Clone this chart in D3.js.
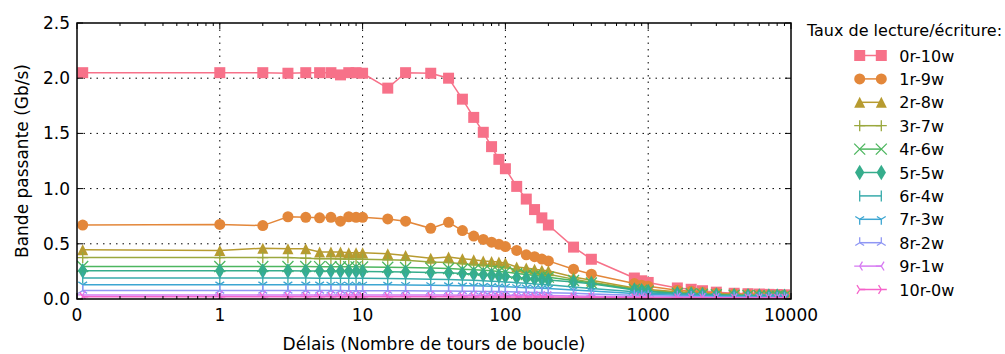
<!DOCTYPE html>
<html>
<head>
<meta charset="utf-8">
<script src="https://cdn.jsdelivr.net/npm/d3@7"></script>
<style>
  html, body { margin: 0; padding: 0; background: #fff; }
  svg { display: block; font-family: "DejaVu Sans", sans-serif; }
</style>
</head>
<body>
<svg id="chart" width="1005" height="354"></svg>
<script>
// Delay values (loop iterations) shared by every series
const delays = [0.04, 1, 2, 3, 4, 5, 6, 7, 8, 9, 10, 15, 20, 30, 40, 50, 60, 70, 80, 90, 100,
  120, 140, 160, 180, 200, 300, 400, 800, 900, 1000, 1600, 2000, 2400, 3000, 4000, 5000,
  6000, 7000, 8000, 9000];

// Bandwidth (Gb/s) per read/write mix
const bw_0r10w = [2.05, 2.05, 2.05, 2.045, 2.05, 2.05, 2.05, 2.03, 2.05, 2.05, 2.045, 1.91, 2.05, 2.045, 2.0,
  1.81, 1.645, 1.51, 1.38, 1.265, 1.18, 1.02, 0.905, 0.81, 0.735, 0.67, 0.47, 0.36, 0.19, 0.165, 0.15,
  0.1, 0.088, 0.075, 0.062, 0.052, 0.048, 0.045, 0.042, 0.04, 0.038];
const bw_1r9w = [0.67, 0.675, 0.665, 0.745, 0.74, 0.735, 0.74, 0.705, 0.745, 0.74, 0.74, 0.725, 0.705, 0.64, 0.695,
  0.62, 0.57, 0.54, 0.515, 0.495, 0.475, 0.44, 0.40, 0.383, 0.362, 0.345, 0.27, 0.225, 0.14, 0.125, 0.115,
  0.08, 0.07, 0.062, 0.052, 0.045, 0.04, 0.037, 0.035, 0.033, 0.032];
const bw_2r8w = [0.445, 0.44, 0.46, 0.455, 0.455, 0.425, 0.425, 0.425, 0.42, 0.42, 0.42, 0.41, 0.395, 0.37, 0.38,
  0.365, 0.355, 0.345, 0.34, 0.335, 0.325, 0.29, 0.28, 0.27, 0.26, 0.255, 0.2, 0.17, 0.1, 0.092, 0.085,
  0.065, 0.058, 0.052, 0.046, 0.04, 0.037, 0.035, 0.033, 0.031, 0.03];
const bw_3r7w = [0.375, 0.375, 0.375, 0.375, 0.37, 0.365, 0.365, 0.363, 0.362, 0.36, 0.36, 0.355, 0.35, 0.335, 0.33,
  0.32, 0.31, 0.305, 0.298, 0.292, 0.285, 0.265, 0.252, 0.242, 0.232, 0.225, 0.18, 0.152, 0.092, 0.085, 0.078,
  0.058, 0.052, 0.047, 0.042, 0.037, 0.034, 0.032, 0.03, 0.029, 0.028];
const bw_4r6w = [0.295, 0.295, 0.295, 0.295, 0.294, 0.293, 0.293, 0.292, 0.292, 0.291, 0.29, 0.288, 0.285, 0.28, 0.276,
  0.27, 0.265, 0.26, 0.255, 0.25, 0.245, 0.232, 0.222, 0.213, 0.205, 0.198, 0.168, 0.145, 0.087, 0.079, 0.071,
  0.052, 0.047, 0.043, 0.038, 0.034, 0.031, 0.029, 0.028, 0.027, 0.026];
const bw_5r5w = [0.255, 0.255, 0.255, 0.255, 0.253, 0.253, 0.253, 0.252, 0.252, 0.251, 0.25, 0.247, 0.244, 0.24, 0.237,
  0.232, 0.226, 0.22, 0.214, 0.208, 0.203, 0.195, 0.188, 0.182, 0.176, 0.172, 0.155, 0.138, 0.082, 0.075, 0.068,
  0.05, 0.045, 0.041, 0.036, 0.032, 0.03, 0.028, 0.027, 0.026, 0.025];
const bw_6r4w = [0.19, 0.19, 0.19, 0.19, 0.19, 0.189, 0.189, 0.189, 0.188, 0.188, 0.188, 0.186, 0.184, 0.18, 0.177,
  0.173, 0.169, 0.165, 0.161, 0.158, 0.155, 0.148, 0.142, 0.137, 0.132, 0.128, 0.108, 0.095, 0.065, 0.06, 0.055,
  0.042, 0.038, 0.034, 0.03, 0.027, 0.025, 0.023, 0.022, 0.021, 0.02];
const bw_7r3w = [0.13, 0.13, 0.13, 0.13, 0.13, 0.13, 0.129, 0.129, 0.129, 0.129, 0.129, 0.128, 0.127, 0.125, 0.123,
  0.121, 0.119, 0.117, 0.115, 0.113, 0.111, 0.107, 0.103, 0.1, 0.097, 0.094, 0.082, 0.073, 0.05, 0.047, 0.044,
  0.034, 0.031, 0.028, 0.025, 0.022, 0.02, 0.019, 0.018, 0.017, 0.017];
const bw_8r2w = [0.076, 0.076, 0.076, 0.076, 0.076, 0.076, 0.076, 0.076, 0.075, 0.075, 0.075, 0.075, 0.074, 0.073, 0.072,
  0.071, 0.07, 0.069, 0.068, 0.067, 0.066, 0.064, 0.062, 0.06, 0.058, 0.057, 0.051, 0.046, 0.034, 0.032, 0.03,
  0.024, 0.022, 0.02, 0.018, 0.016, 0.015, 0.014, 0.013, 0.013, 0.012];
const bw_9r1w = [0.037, 0.037, 0.037, 0.037, 0.037, 0.037, 0.037, 0.037, 0.037, 0.037, 0.037, 0.037, 0.036, 0.036, 0.036,
  0.035, 0.035, 0.035, 0.034, 0.034, 0.034, 0.033, 0.032, 0.032, 0.031, 0.031, 0.028, 0.026, 0.02, 0.019, 0.018,
  0.015, 0.014, 0.013, 0.012, 0.011, 0.01, 0.01, 0.009, 0.009, 0.009];
const bw_10r0w = [0.02, 0.02, 0.02, 0.02, 0.02, 0.02, 0.02, 0.02, 0.02, 0.02, 0.02, 0.02, 0.02, 0.02, 0.02,
  0.019, 0.019, 0.019, 0.019, 0.019, 0.019, 0.018, 0.018, 0.018, 0.018, 0.017, 0.016, 0.015, 0.012, 0.011, 0.011,
  0.009, 0.009, 0.008, 0.008, 0.007, 0.007, 0.006, 0.006, 0.006, 0.006];

const seriesNames = ["0r-10w", "1r-9w", "2r-8w", "3r-7w", "4r-6w", "5r-5w", "6r-4w", "7r-3w", "8r-2w", "9r-1w", "10r-0w"];
const seriesValues = [bw_0r10w, bw_1r9w, bw_2r8w, bw_3r7w, bw_4r6w, bw_5r5w, bw_6r4w, bw_7r3w, bw_8r2w, bw_9r1w, bw_10r0w];

const xTickValues = [0, 1, 10, 100, 1000, 10000];
const xTickLabels = ["0", "1", "10", "100", "1000", "10000"];
const yTickValues = [0, 0.5, 1.0, 1.5, 2.0, 2.5];
const yTickLabels = ["0.0", "0.5", "1.0", "1.5", "2.0", "2.5"];

const legendTitle = "Taux de lecture/écriture:";
const xTitle = "Délais (Nombre de tours de boucle)";
const yTitle = "Bande passante (Gb/s)";

// ---- styles ----
const colors = ["#f77189", "#e3873a", "#b79b30", "#9aa83e", "#4db65f", "#36ad8c", "#37abab",
  "#3da6d2", "#8f97f4", "#d67af2", "#f562c9"];
const markers = ["square", "circle", "triangle", "plus", "x", "thin_diamond", "vline",
  "tri_down", "tri_up", "tri_left", "tri_right"];

const plot = { left: 77, right: 791, top: 23, bottom: 299 };
const svg = d3.select("#chart");

// Symmetric-log axis: linear on [0,1], one decade per unit above 1.
const tScale = d3.scaleLinear().domain([0, 5]).range([plot.left, plot.right]);
const logPart = d3.scaleLog().domain([1, 10000]).range([1, 5]);
const xPos = v => tScale(v <= 1 ? v : logPart(v));
const y = d3.scaleLinear().domain([0, 2.5]).range([plot.bottom, plot.top]);

const MS = 11;

function markerPath(type) {
  const h = MS / 2;
  switch (type) {
    case "square": return `M${-h},${-h}H${h}V${h}H${-h}Z`;
    case "circle": return d3.symbol(d3.symbolCircle, Math.PI * h * h)();
    case "triangle": return `M0,${-h}L${h},${h}L${-h},${h}Z`;
    case "plus": return `M${-h},0H${h}M0,${-h}V${h}`;
    case "x": return `M${-h},${-h}L${h},${h}M${-h},${h}L${h},${-h}`;
    case "thin_diamond": {
      const dh = MS / Math.SQRT2, dw = 0.6 * dh;
      return `M0,${-dh}L${dw},0L0,${dh}L${-dw},0Z`;
    }
    case "vline": return `M0,${-h}V${h}`;
    case "tri_down": return `M0,0L0,${h}M0,0L${0.8 * h},${-0.5 * h}M0,0L${-0.8 * h},${-0.5 * h}`;
    case "tri_up": return `M0,0L0,${-h}M0,0L${0.8 * h},${0.5 * h}M0,0L${-0.8 * h},${0.5 * h}`;
    case "tri_left": return `M0,0L${-h},0M0,0L${0.5 * h},${-0.8 * h}M0,0L${0.5 * h},${0.8 * h}`;
    case "tri_right": return `M0,0L${h},0M0,0L${-0.5 * h},${-0.8 * h}M0,0L${-0.5 * h},${0.8 * h}`;
  }
}
const filled = t => ["square", "circle", "triangle", "thin_diamond"].includes(t);

function styleMarker(sel, type, color) {
  if (filled(type)) sel.attr("fill", color).attr("stroke", "none");
  else sel.attr("fill", "none").attr("stroke", color).attr("stroke-width", 1.3);
}

// ---- grid ----
const grid = svg.append("g").attr("stroke", "#000").attr("stroke-width", 1)
  .attr("stroke-dasharray", "1.5,5");
grid.selectAll("line.gx").data(xTickValues.slice(1, -1)).join("line")
  .attr("x1", d => xPos(d)).attr("x2", d => xPos(d))
  .attr("y1", plot.top).attr("y2", plot.bottom);
grid.selectAll("line.gy").data(yTickValues.slice(1, -1)).join("line")
  .attr("x1", plot.left).attr("x2", plot.right)
  .attr("y1", d => y(d)).attr("y2", d => y(d));

// ---- series ----
svg.append("clipPath").attr("id", "plotClip").append("rect")
  .attr("x", plot.left).attr("y", plot.top)
  .attr("width", plot.right - plot.left).attr("height", plot.bottom - plot.top);

const dataArea = svg.append("g").attr("clip-path", "url(#plotClip)");
const line = d3.line().x(d => xPos(d[0])).y(d => y(d[1]));

seriesValues.forEach((vals, i) => {
  const pts = delays.map((d, k) => [d, vals[k]]);
  const g = dataArea.append("g");
  g.append("path").datum(pts).attr("d", line)
    .attr("fill", "none").attr("stroke", colors[i]).attr("stroke-width", 1.5);
  g.selectAll("path.m").data(pts).join("path").attr("class", "m")
    .attr("d", markerPath(markers[i]))
    .attr("transform", d => `translate(${xPos(d[0])},${y(d[1])})`)
    .call(styleMarker, markers[i], colors[i]);
});

// ---- frame and ticks ----
const axes = svg.append("g").attr("stroke", "#000");
const minorX = [];
for (let dec = 0; dec < 5; dec++) {
  for (let k = 2; k <= 9; k++) minorX.push(dec + Math.log10(k));
}
axes.selectAll("line.minor").data(minorX).join("line")
  .attr("x1", d => tScale(d)).attr("x2", d => tScale(d))
  .attr("y1", plot.bottom).attr("y2", plot.bottom - 3).attr("stroke-width", 1);
axes.selectAll("line.minorTop").data(minorX).join("line").attr("class", "minorTop")
  .attr("x1", d => tScale(d)).attr("x2", d => tScale(d))
  .attr("y1", plot.top).attr("y2", plot.top + 3).attr("stroke-width", 1);
axes.selectAll("line.majX").data(xTickValues).join("line").attr("class", "majX")
  .attr("x1", d => xPos(d)).attr("x2", d => xPos(d))
  .attr("y1", plot.bottom).attr("y2", plot.bottom - 6).attr("stroke-width", 1);
axes.selectAll("line.majXt").data(xTickValues).join("line").attr("class", "majXt")
  .attr("x1", d => xPos(d)).attr("x2", d => xPos(d))
  .attr("y1", plot.top).attr("y2", plot.top + 6).attr("stroke-width", 1);
axes.selectAll("line.majY").data(yTickValues).join("line").attr("class", "majY")
  .attr("x1", plot.left).attr("x2", plot.left + 6)
  .attr("y1", d => y(d)).attr("y2", d => y(d)).attr("stroke-width", 1);
axes.selectAll("line.majYr").data(yTickValues).join("line").attr("class", "majYr")
  .attr("x1", plot.right).attr("x2", plot.right - 6)
  .attr("y1", d => y(d)).attr("y2", d => y(d)).attr("stroke-width", 1);
axes.append("rect").attr("x", plot.left).attr("y", plot.top)
  .attr("width", plot.right - plot.left).attr("height", plot.bottom - plot.top)
  .attr("fill", "none").attr("stroke-width", 1.5);

// ---- tick labels ----
const fs = 17;
svg.append("g").selectAll("text").data(xTickValues).join("text")
  .attr("x", d => xPos(d)).attr("y", 321)
  .attr("text-anchor", "middle").attr("font-size", fs).attr("fill", "#000")
  .text((d, i) => xTickLabels[i]);
svg.append("g").selectAll("text").data(yTickValues).join("text")
  .attr("x", 70).attr("y", d => y(d) + 6)
  .attr("text-anchor", "end").attr("font-size", fs).attr("fill", "#000")
  .text((d, i) => yTickLabels[i]);

// ---- axis titles ----
svg.append("text").attr("x", (plot.left + plot.right) / 2).attr("y", 350)
  .attr("text-anchor", "middle").attr("font-size", fs).text(xTitle);
svg.append("text").attr("transform", `translate(28,${(plot.top + plot.bottom) / 2}) rotate(-90)`)
  .attr("text-anchor", "middle").attr("font-size", fs).text(yTitle);

// ---- legend ----
const legend = svg.append("g");
legend.append("text").attr("x", 904.5).attr("y", 36).attr("text-anchor", "middle")
  .attr("font-size", 16).text(legendTitle);
const rowY = i => 55.5 + i * 23.4;
seriesNames.forEach((name, i) => {
  const g = legend.append("g").attr("transform", `translate(0,${rowY(i)})`);
  g.append("line").attr("x1", 859.7).attr("x2", 881.3).attr("y1", 0).attr("y2", 0)
    .attr("stroke", colors[i]).attr("stroke-width", 1.5);
  [859.7, 881.3].forEach(mx => {
    g.append("path").attr("d", markerPath(markers[i]))
      .attr("transform", `translate(${mx},0)`).call(styleMarker, markers[i], colors[i]);
  });
  g.append("text").attr("x", 899.3).attr("y", 6).attr("font-size", 16).text(name);
});
</script>
</body>
</html>
